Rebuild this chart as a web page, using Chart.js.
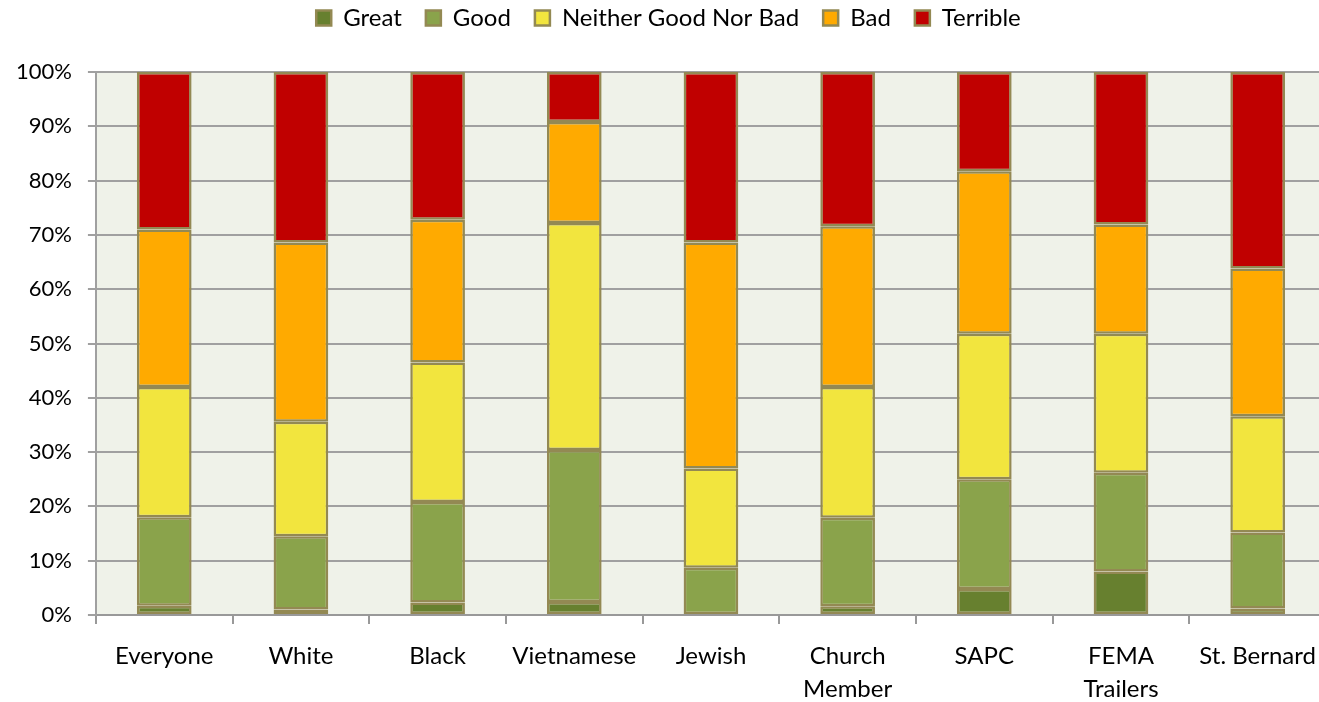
<!DOCTYPE html>
<html>
<head>
<meta charset="utf-8">
<script src="https://cdn.jsdelivr.net/npm/chart.js@4/dist/chart.umd.min.js"></script>
<style>
html,body{margin:0;padding:0;background:#fff;overflow:hidden;}
canvas{display:block;}
</style>
</head>
<body>
<canvas id="c" width="1332" height="702"></canvas>
<script>
const categories = ['Everyone', 'White', 'Black', 'Vietnamese', 'Jewish', ['Church', 'Member'], 'SAPC', ['FEMA', 'Trailers'], 'St. Bernard'];
const great    = [1.7, 1.0, 2.3, 2.4, 0.0, 1.6, 4.8, 8.0, 1.2];
const good     = [16.3, 13.5, 18.5, 28.0, 8.7, 16.3, 20.2, 18.2, 14.0];
const neither  = [24.0, 21.1, 25.7, 41.8, 18.3, 24.1, 26.8, 25.6, 21.4];
const bad      = [29.0, 33.0, 26.3, 18.6, 41.6, 29.6, 29.9, 20.1, 27.2];
const terrible = [29.0, 31.4, 27.2, 9.2, 31.4, 28.4, 18.3, 28.1, 36.2];
const yTicks = [0, 10, 20, 30, 40, 50, 60, 70, 80, 90, 100];

const borderCol = '#938953';
function ds(label, data, color) {
  return { label, data, backgroundColor: color, borderColor: borderCol, borderWidth: 2.5,
           categoryPercentage: 1.0, barPercentage: 0.4, borderSkipped: false };
}

const plotBg = {
  id: 'plotBg',
  beforeInit(chart) {
    const lg = chart.legend;
    const f = lg.fit;
    lg.fit = function () { f.call(this); this.height += 32; };
  },
  beforeDraw(chart) {
    const {ctx, chartArea: a} = chart;
    ctx.save();
    ctx.fillStyle = '#EFF2E9';
    ctx.fillRect(a.left, a.top, a.right - a.left, a.bottom - a.top);
    ctx.restore();
  }
};

const FONT = "Lato, 'Open Sans', sans-serif";

new Chart(document.getElementById('c'), {
  type: 'bar',
  data: {
    labels: categories,
    datasets: [
      ds('Great', great, '#67802F'),
      ds('Good', good, '#8AA34B'),
      ds('Neither Good Nor Bad', neither, '#F2E53E'),
      ds('Bad', bad, '#FFAA00'),
      ds('Terrible', terrible, '#C00000')
    ]
  },
  options: {
    responsive: false,
    animation: false,
    devicePixelRatio: 1,
    layout: { padding: { left: 0, right: -5, top: -18, bottom: -20 } },
    plugins: {
      legend: {
        position: 'top',
        labels: {
          color: '#000',
          font: { family: FONT, size: 24 },
          boxWidth: 15, boxHeight: 15,
          padding: 24
        }
      },
      tooltip: { enabled: false }
    },
    scales: {
      x: {
        stacked: true,
        grid: { display: true, drawOnChartArea: false, drawTicks: true, tickLength: 9, color: '#999', lineWidth: 2, offset: true },
        border: { color: '#999', width: 2 },
        ticks: { color: '#000', font: { family: FONT, size: 24, lineHeight: 1.375 }, maxRotation: 0, autoSkip: false, padding: 16 }
      },
      y: {
        stacked: true,
        min: 0, max: 100,
        afterBuildTicks(axis) { axis.ticks = yTicks.map(v => ({ value: v })); },
        grid: { color: '#a0a0a0', lineWidth: 2, tickLength: 8 },
        border: { color: '#a0a0a0', width: 2 },
        ticks: { color: '#000', font: { family: FONT, size: 22 }, padding: 16, callback: v => v + '%' }
      }
    }
  },
  plugins: [plotBg]
});
</script>
</body>
</html>
